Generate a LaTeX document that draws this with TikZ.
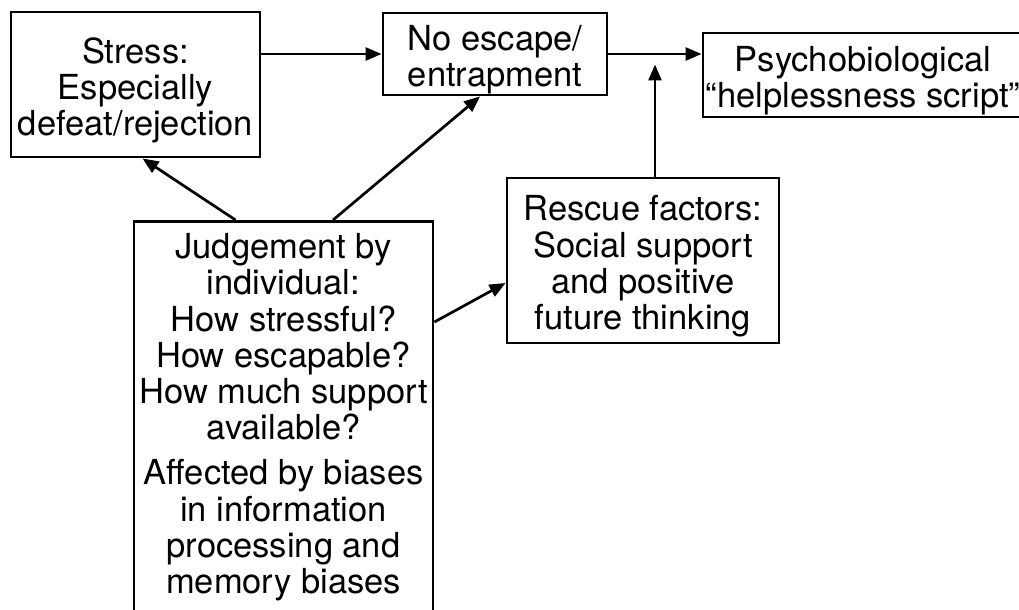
\documentclass[tikz,border=0pt]{standalone}
\usepackage{fontspec}
\setmainfont{TeX Gyre Heros}
\usepackage{tikz}
\usetikzlibrary{arrows.meta,calc}
\newcommand{\boxstrut}{\rule{0pt}{18.5pt}}

\begin{document}
\begin{tikzpicture}[x=0.5pt,y=-0.5pt,
	box/.style={draw,line width=1.45pt,align=center,inner sep=0pt,font=\fontsize{17.25pt}{18.1pt}\selectfont},
	arr/.style={line width=1.35pt,-{Triangle[length=8pt,width=6.5pt]}}]
	\useasboundingbox (0,0) rectangle (1019,610);
	\node (stress) at (135.5,84.5)[box,minimum width=124.5pt,minimum height=72.5pt] {\boxstrut Stress:\\Especially\\defeat/rejection};
	\node (noesc) at (495,54)[box,minimum width=112pt,minimum height=41pt] {\boxstrut No escape/\\entrapment};
	\node (psych) at (863,75)[box,minimum width=160pt,minimum height=42pt] {\boxstrut Psychobiological\\“helplessness script”};
	\node (rescue) at (643,260.5)[box,minimum width=136pt,minimum height=82.5pt] {\boxstrut Rescue factors:\\Social support\\and positive\\future thinking};
	\node (judge) at (283.5,220)[box,anchor=north,minimum width=149.5pt,inner ysep=6pt,text depth=26pt] {Judgement by\\individual:\\How stressful?\\How escapable?\\How much support\\available?\\[4.5pt]Affected by biases\\in information\\processing and\\memory biases};
	\coordinate (join) at ($(noesc.east)!0.5!(psych.west)$);
	\draw[arr] (stress.east |- noesc.west)--(noesc.west);
	\draw[arr] (noesc.east)--(noesc.east -| psych.west);
	\draw[arr] (rescue.north -| join)--(join);
	\draw[arr] ($(judge.north)+(-48,0)$)--($(stress.south)+(7,0)$);
	\draw[arr] ($(judge.north)+(49.5,0)$)--($(noesc.south)+(-15,0)$);
	\draw[arr] ($(judge.north east)+(0,102)$)--($(rescue.west)+(0,22.5)$);
\end{tikzpicture}
\end{document}
